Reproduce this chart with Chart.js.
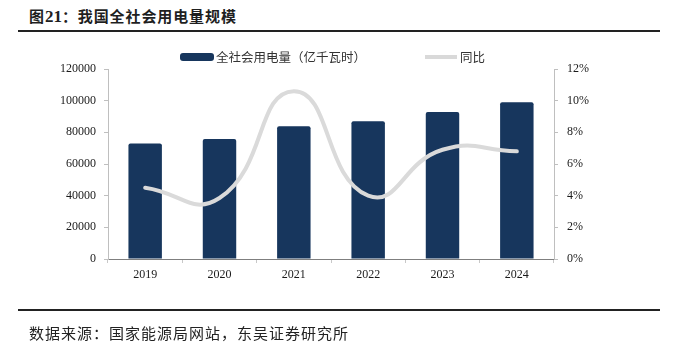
<!DOCTYPE html>
<html lang="zh-CN">
<head>
<meta charset="UTF-8">
<title>我国全社会用电量规模</title>
<script src="https://cdn.jsdelivr.net/npm/chart.js"></script>
<style>
    body { margin: 0; background: #fff; }
    #page { position: relative; width: 674px; height: 348px; overflow: hidden; font-family: "Noto Sans CJK SC", sans-serif; }
    #title { position: absolute; left: 29px; top: 5px; font-size: 15px; font-weight: bold; color: #1f1f1f; letter-spacing: 0.9px; }
    #title .num { font-family: "Liberation Serif", serif; font-size: 17px; letter-spacing: 0; }
    .rule { position: absolute; left: 18px; width: 642px; height: 2px; background: #222; }
    #source { position: absolute; left: 29px; top: 322px; font-size: 15px; color: #222; letter-spacing: 1px; }
    #chartWrap { position: absolute; left: 0; top: 0; }
    .lg { position: absolute; font-size: 12.5px; color: #333; }
</style>
</head>
<body>
<div id="page">
    <div id="title">图<span class="num">21</span>：我国全社会用电量规模</div>
    <div class="rule" style="top:30px"></div>
    <div id="chartWrap"><canvas id="myChart" width="674" height="348"></canvas></div>
    <!-- legenda -->
    <div style="position:absolute;left:180px;top:53px;width:34px;height:8px;border-radius:3px;background:#17365d"></div>
    <div class="lg" style="left:216px;top:47px">全社会用电量（亿千瓦时）</div>
    <div style="position:absolute;left:425px;top:55px;width:32px;height:4px;background:#d9d9d9"></div>
    <div class="lg" style="left:460px;top:47px">同比</div>
    <div class="rule" style="top:309px"></div>
    <div id="source">数据来源：国家能源局网站，东吴证券研究所</div>
</div>
<script>
    const years = ['2019', '2020', '2021', '2022', '2023', '2024'];
    const consumption = [73000, 75800, 83800, 87000, 92800, 99000]; // 亿千瓦时
    const growth = [4.5, 3.85, 10.6, 4.0, 6.9, 6.8]; // %
    const leftTicks = [0, 20000, 40000, 60000, 80000, 100000, 120000];
    const rightTicks = [0, 2, 4, 6, 8, 10, 12];

    const tickFont = { family: 'Liberation Serif', size: 12 };
    const ctx = document.getElementById('myChart').getContext('2d');
    const myChart = new Chart(ctx, {
        type: 'bar',
        data: {
            labels: years,
            datasets: [{
                type: 'line',
                label: '同比',
                data: growth,
                yAxisID: 'y1',
                borderColor: '#dadada',
                borderWidth: 4,
                borderCapStyle: 'round',
                pointRadius: 0,
                tension: 0.5,
                order: 0
            }, {
                label: '全社会用电量（亿千瓦时）',
                data: consumption,
                yAxisID: 'y',
                backgroundColor: '#17365d',
                borderRadius: 2,
                barPercentage: 0.45,
                categoryPercentage: 1,
                order: 1
            }]
        },
        options: {
            responsive: false,
            animation: false,
            layout: { padding: { top: 69, left: 0, right: 0, bottom: 0 } },
            plugins: { legend: { display: false }, tooltip: { enabled: false } },
            scales: {
                x: {
                    grid: { drawOnChartArea: false, tickLength: 4, color: '#c8c8c8' },
                    border: { color: '#7f7f7f', width: 1 },
                    ticks: { font: tickFont, color: '#1a1a1a', padding: 5 },
                    afterFit(s) { s.height = 89; }
                },
                y: {
                    position: 'left',
                    min: 0, max: 120000,
                    grid: { drawOnChartArea: false, tickLength: 4, color: '#bfbfbf' },
                    border: { color: '#bfbfbf' },
                    afterBuildTicks(s) { s.ticks = leftTicks.map(v => ({ value: v })); },
                    ticks: { font: tickFont, color: '#1a1a1a', padding: 8, callback: v => String(v) },
                    afterFit(s) { s.width = 108; }
                },
                y1: {
                    position: 'right',
                    min: 0, max: 12,
                    grid: { drawOnChartArea: false, tickLength: 4, color: '#bfbfbf' },
                    border: { color: '#bfbfbf' },
                    afterBuildTicks(s) { s.ticks = rightTicks.map(v => ({ value: v })); },
                    ticks: { font: tickFont, color: '#1a1a1a', padding: 9, callback: v => v + '%' },
                    afterFit(s) { s.width = 120; }
                }
            }
        }
    });
</script>
</body>
</html>
